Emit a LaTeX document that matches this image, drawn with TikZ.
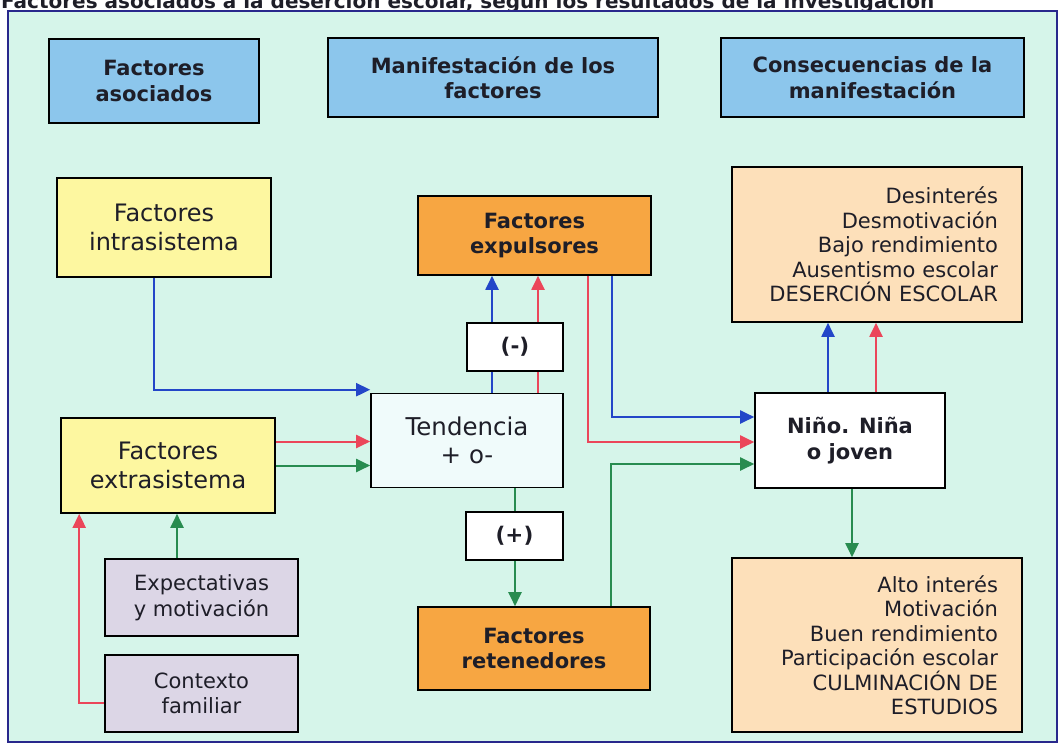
\documentclass[tikz,border=0pt]{standalone}
\usepackage{fontspec}
\setmainfont{DejaVu Sans}
\usetikzlibrary{%
	calc,%
	arrows.meta,%
	positioning
}
\definecolor{mint}{RGB}{214,245,234}
\definecolor{frameblue}{RGB}{40,40,140}
\definecolor{headblue}{RGB}{140,198,236}
\definecolor{paleyellow}{RGB}{253,247,160}
\definecolor{lavender}{RGB}{220,214,230}
\definecolor{deeporange}{RGB}{247,166,66}
\definecolor{peach}{RGB}{253,224,186}
\definecolor{paleblue}{RGB}{240,251,251}
\definecolor{textdark}{RGB}{30,30,40}
\definecolor{linkblue}{RGB}{35,70,200}
\definecolor{linkred}{RGB}{235,70,90}
\definecolor{linkgreen}{RGB}{40,140,80}

\begin{document}
\begin{tikzpicture}[x=1pt,y=-1pt,
		box/.style={draw=black,line width=1.6pt,align=center,inner sep=2pt,text=textdark},
		header/.style={box,fill=headblue,font=\fontsize{21}{25.5}\selectfont\bfseries},
		factor/.style={box,fill=paleyellow,font=\fontsize{24}{28.5}\selectfont},
		context/.style={box,fill=lavender,font=\fontsize{21}{25.5}\selectfont},
		pushpull/.style={box,fill=deeporange,font=\fontsize{21}{25.5}\selectfont\bfseries},
		sign/.style={box,fill=white,font=\fontsize{21.5}{25}\selectfont\bfseries},
		result/.style={box,fill=peach,font=\fontsize{21}{24.5}\selectfont,align=right,
			text width=242pt,inner xsep=24pt},
		link/.style={line width=2pt,-{Triangle[length=14pt,width=13pt]}}
	]
	\useasboundingbox (0,0) rectangle (1062,748);
	
	% Frame and cut title
	\fill[white] (0,0) rectangle (1062,748);
	\node[anchor=base west,inner sep=0pt,font=\fontsize{20}{22}\selectfont\bfseries,text=textdark] (title) at (1,8)
		{Factores asociados a la deserción escolar, según los resultados de la investigación};
	\filldraw[fill=mint,draw=frameblue,line width=2pt] (8,11) rectangle (1057,742);
	
	% Column headers
	\node[header,minimum width=210pt,minimum height=84pt] (hdrA) at (154,81) {Factores\\asociados};
	\node[header,minimum width=330pt,minimum height=79pt] (hdrB) at (493,77.5) {Manifestación de los\\factores};
	\node[header,minimum width=303pt,minimum height=79pt] (hdrC) at (872.5,77.5) {Consecuencias de la\\manifestación};
	
	% Associated factors
	\node[factor,minimum width=214pt,minimum height=99pt] (intra) at (164,227.5) {Factores\\intrasistema};
	\node[factor,minimum width=214pt,minimum height=95pt] (extra) at (168,465.5) {Factores\\extrasistema};
	\node[context,minimum width=193pt,minimum height=77pt] (expect) at (201.5,597.5) {Expectativas\\y motivación};
	\node[context,minimum width=193pt,minimum height=77pt] (family) at (201.5,693.5) {Contexto\\familiar};
	
	% Middle column
	\node[box,fill=paleblue,font=\fontsize{24.5}{28.5}\selectfont,minimum width=192pt,minimum height=94pt] (tend) at (467,440.5) {Tendencia\\+ o-};
	\node[pushpull,minimum width=233pt,minimum height=79pt] (expul) at (534.5,235.5) {Factores\\expulsores};
	\node[pushpull,minimum width=232pt,minimum height=83pt] (reten) at (534,648.5) {Factores\\retenedores};
	
	% Consequences
	\node[box,fill=white,font=\fontsize{21}{26}\selectfont\bfseries,minimum width=190pt,minimum height=95pt] (child) at (850,440.5) {Niño. Niña\\o joven};
	\node[result,minimum width=290pt,minimum height=155pt] (desert) at (877,244.5)
		{Desinterés\\Desmotivación\\Bajo rendimiento\\Ausentismo escolar\\DESERCIÓN ESCOLAR};
	\node[result,minimum width=290pt,minimum height=174pt] (finish) at (877,645)
		{Alto interés\\Motivación\\Buen rendimiento\\Participación escolar\\CULMINACIÓN DE\\ESTUDIOS};
	
	% Arrows into the tendency
	\draw[link,linkblue] ($(intra.south)+(-10,0)$) |- ($(tend.north west)+(0,-3)$);
	\draw[link,linkred] ($(extra.east)+(0,-24)$) coordinate (e1) -- (e1 -| tend.west);
	\draw[link,linkgreen] (extra.east) -- (extra.east -| tend.west);
	\draw[link,linkred] ($(family.west)+(0,9.5)$) -| ($(extra.south west)+(19,0)$);
	\draw[link,linkgreen] ($(expect.north)+(-24.5,0)$) coordinate (g1) -- (g1 |- extra.south);
	
	% Tendency towards the two kinds of factors
	\draw[link,linkblue] ($(tend.north)+(25,0)$) coordinate (t1) -- (t1 |- expul.south);
	\draw[link,linkred] ($(tend.north)+(71,0)$) coordinate (t2) -- (t2 |- expul.south);
	\draw[link,linkgreen] ($(tend.south)+(48,0)$) coordinate (t3) -- (t3 |- reten.north);
	\node[sign,minimum width=96pt,minimum height=48pt] (minus) at (515,347) {(-)};
	\node[sign,minimum width=97pt,minimum height=48pt] (plus) at (514.5,536) {(+)};
	
	% Factors reaching the child
	\draw[link,linkred] ($(expul.south)+(53.5,0)$) |- ($(child.west)+(0,1.5)$);
	\draw[link,linkblue] ($(expul.south)+(77.5,0)$) |- ($(child.west)+(0,-23.5)$);
	\draw[link,linkgreen] ($(reten.north)+(77,0)$) |- ($(child.west)+(0,23.5)$);
	
	% Consequences
	\draw[link,linkblue] ($(child.north)+(-22,0)$) coordinate (c1) -- (c1 |- desert.south);
	\draw[link,linkred] ($(child.north)+(26,0)$) coordinate (c2) -- (c2 |- desert.south);
	\draw[link,linkgreen] ($(child.south)+(2,0)$) coordinate (c3) -- (c3 |- finish.north);
\end{tikzpicture}
\end{document}
